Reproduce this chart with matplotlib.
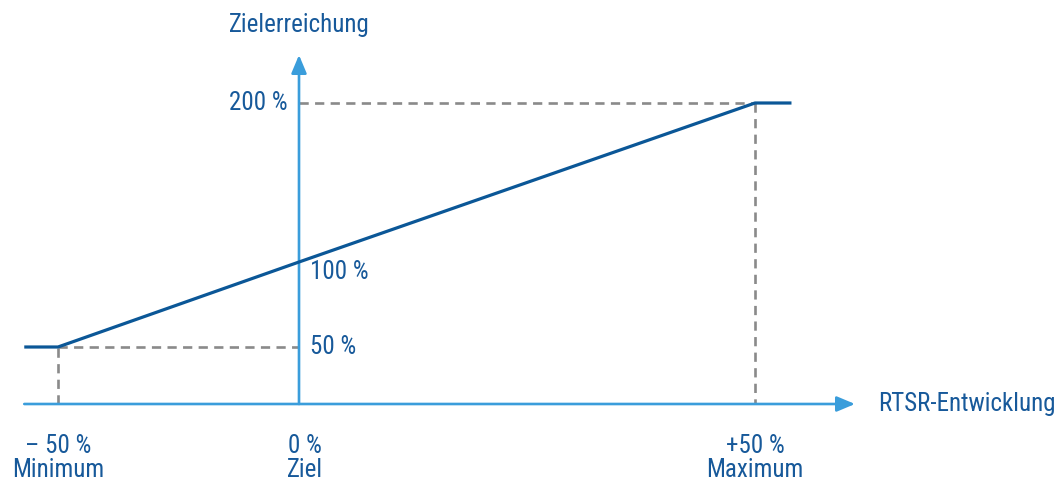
import numpy as np
import matplotlib
matplotlib.use("Agg")
import matplotlib.pyplot as plt

plt.rcParams["font.family"] = ["Roboto Condensed", "DejaVu Sans"]

# data (schematic: RTSR development in % -> target achievement in %)
x_vals = [-57, -50, 0, 50, 54]
y_vals = [50, 50, 100, 200, 200]
x_ticks = [-50, 0, 50]
x_tick_labels = ["– 50 %\nMinimum", "0 %\nZiel", "+50 %\nMaximum"]
y_ticks = [200, 100, 50]
y_tick_labels = ["200 %", "100 %", "50 %"]
x_title = "RTSR-Entwicklung"
y_title = "Zielerreichung"

DARK = "#0b5797"
LIGHT = "#3a9ddb"
GREY = "#8a8a8a"
TEXT = "#17599a"

W, H = 1064, 480


def piecewise(src, dst):
    src = np.asarray(src, float)
    dst = np.asarray(dst, float)
    s0 = (dst[1] - dst[0]) / (src[1] - src[0])
    s1 = (dst[-1] - dst[-2]) / (src[-1] - src[-2])

    def f(v):
        v = np.asarray(v, float)
        out = np.interp(v, src, dst)
        out = np.where(v < src[0], dst[0] + (v - src[0]) * s0, out)
        out = np.where(v > src[-1], dst[-1] + (v - src[-1]) * s1, out)
        return out
    return f


# the picture is not to scale, so map values to positions piece by piece
fx = piecewise([-50, 0, 50], [58, 299, 755])
fx_inv = piecewise([58, 299, 755], [-50, 0, 50])
fy = piecewise([0, 50, 100, 200], [76, 133, 218, 377])
fy_inv = piecewise([76, 133, 218, 377], [0, 50, 100, 200])

fig = plt.figure(figsize=(W / 100, H / 100), dpi=100)
ax = fig.add_axes([0, 0, 1, 1])
ax.set_xscale("function", functions=(fx, fx_inv))
ax.set_yscale("function", functions=(fy, fy_inv))
ax.set_xlim(float(fx_inv(0)), float(fx_inv(W)))
ax.set_ylim(float(fy_inv(0)), float(fy_inv(H)))
ax.axis("off")

# axes with arrows
x0 = x_vals[0]
arrow = dict(arrowstyle="-|>,head_length=1.0,head_width=0.42",
             mutation_scale=11, color=LIGHT, lw=1.9, shrinkA=0, shrinkB=0)
ax.annotate("", xy=(float(fx_inv(855)), 0), xytext=(x0, 0),
            arrowprops=arrow, zorder=2)
ax.annotate("", xy=(0, float(fy_inv(H - 55))), xytext=(0, 0),
            arrowprops=arrow, zorder=2)

# dashed guide lines
dash = dict(color=GREY, lw=1.9, dashes=(3.5, 2.4), zorder=1)
ax.plot([x_ticks[0], x_ticks[0]], [0, y_vals[1]], **dash)
ax.plot([x_ticks[0], 0], [y_vals[1], y_vals[1]], **dash)
ax.plot([0, x_ticks[2]], [y_vals[3], y_vals[3]], **dash)
ax.plot([x_ticks[2], x_ticks[2]], [y_vals[3], 0], **dash)

# payout curve
ax.plot(x_vals, y_vals, color=DARK, lw=2.3, solid_capstyle="butt", zorder=3)

fs = 18
ax.text(0, float(fy_inv(H - 25)), y_title, ha="center", va="center",
        fontsize=fs, color=TEXT)
ax.text(float(fx_inv(878)), 0, x_title, ha="left", va="center",
        fontsize=fs, color=TEXT)

ax.text(float(fx_inv(288)), y_ticks[0], y_tick_labels[0], ha="right",
        va="center", fontsize=fs, color=TEXT)
ax.text(float(fx_inv(310)), float(fy_inv(H - 272)), y_tick_labels[1],
        ha="left", va="center", fontsize=fs, color=TEXT)
ax.text(float(fx_inv(310)), y_ticks[2], y_tick_labels[2], ha="left",
        va="center", fontsize=fs, color=TEXT)

for xv, lab in zip(x_ticks, x_tick_labels):
    xp = float(fx_inv(fx(xv) + (6 if xv == 0 else 0)))
    ax.text(xp, float(fy_inv(H - 458)), lab, ha="center", va="center",
            fontsize=fs, color=TEXT, linespacing=0.98, multialignment="center")

fig.savefig("out.png", dpi=100)
